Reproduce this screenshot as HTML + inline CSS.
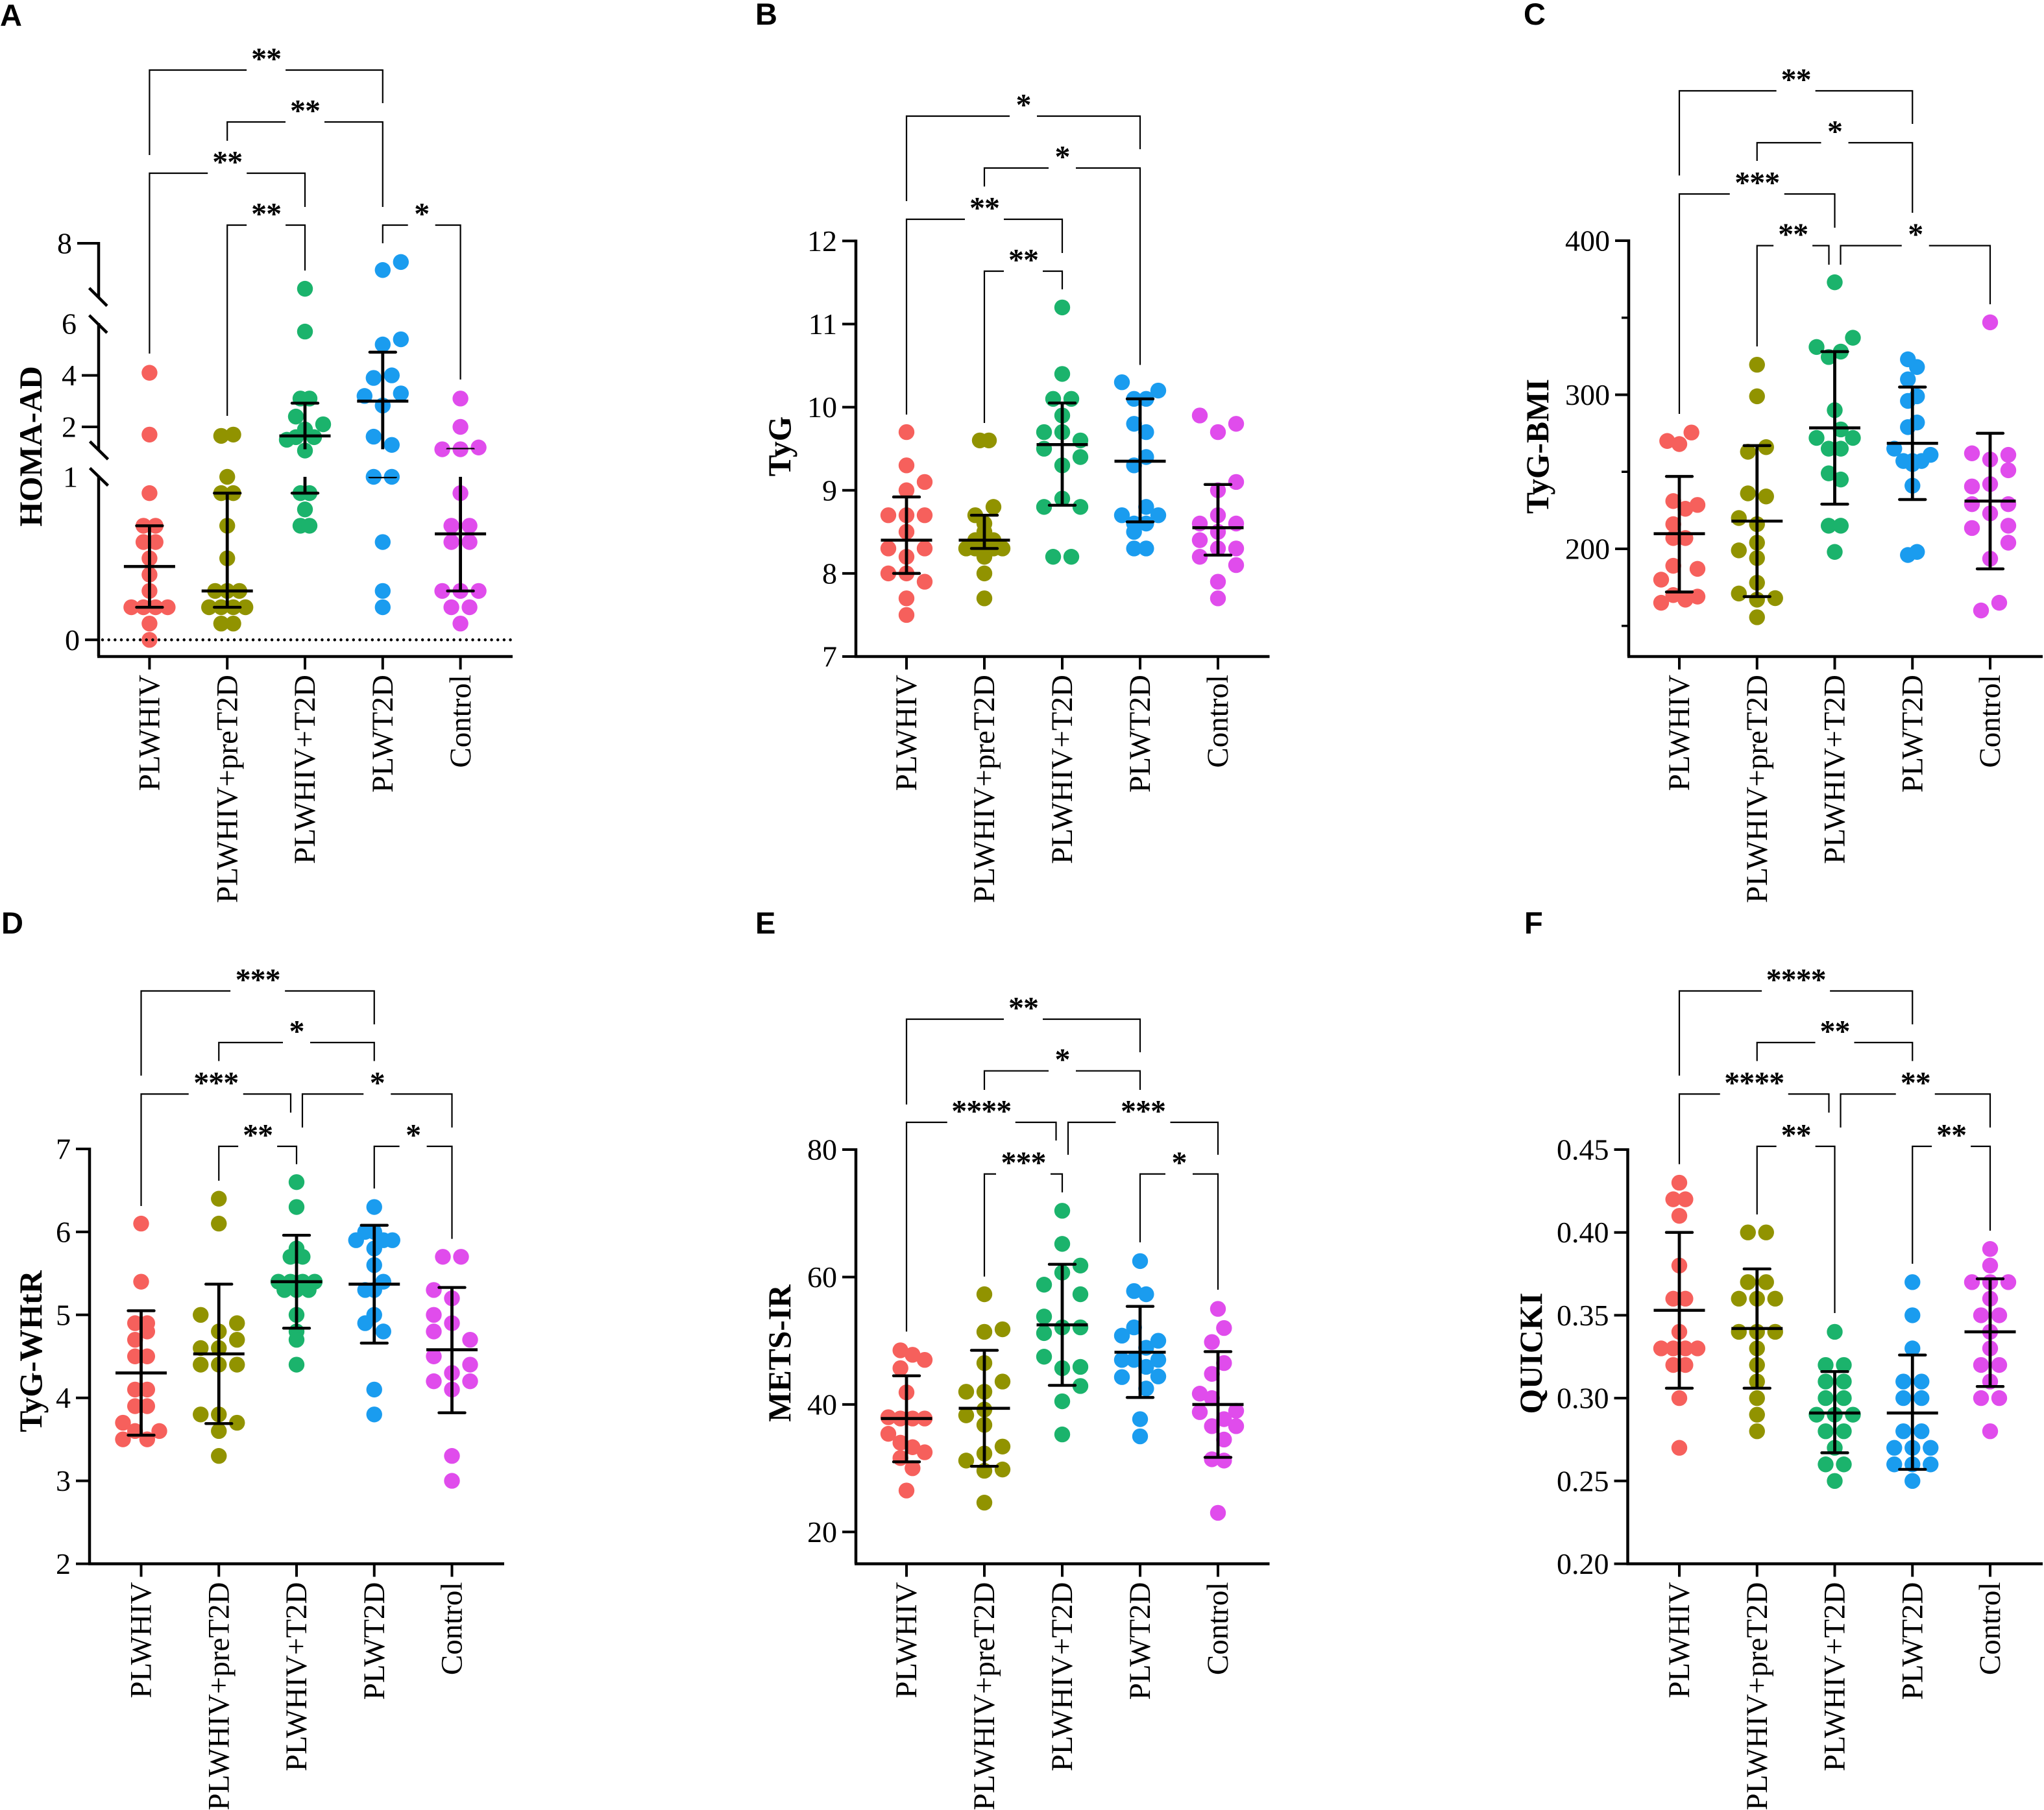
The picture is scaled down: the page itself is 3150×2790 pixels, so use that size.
<!DOCTYPE html>
<html lang="en">
<head>
<meta charset="utf-8">
<title>Insulin resistance indices by group</title>
<style>
html,body{margin:0;padding:0;background:#fff;}
svg{display:block;}
text{fill:#000;}
.tick-text{font-family:"Liberation Serif",serif;font-size:46px;}
.cat-text{font-family:"Liberation Serif",serif;font-size:47px;}
.title-text{font-family:"Liberation Serif",serif;font-size:49.5px;font-weight:bold;}
.star-text{font-family:"Liberation Serif",serif;font-size:48px;font-weight:bold;}
.letter-text{font-family:"Liberation Sans",sans-serif;font-size:47px;font-weight:bold;}
</style>
</head>
<body>
<svg id="figure" xmlns="http://www.w3.org/2000/svg" width="3150" height="2790" viewBox="0 0 3150 2790">
<rect x="0" y="0" width="3150" height="2790" fill="#ffffff"/>
</svg>
<script>
const categories = ['PLWHIV', 'PLWHIV+preT2D', 'PLWHIV+T2D', 'PLWT2D', 'Control'];
const groupKeys = ['plwhiv', 'plwhiv-pret2d', 'plwhiv-t2d', 'plwt2d', 'control'];

/* Each group is a list of swarm rows; a row's values sit side by side, null leaves a slot empty. */
/* Panel A: HOMA-AD */
const homaPlwhiv = [[0],[0.1],[0.2,0.2,0.2,0.2],[0.3],[0.4],[0.5],[0.6,0.6],[0.7,0.7],[0.9],[1.7],[4.1]];
const homaPre = [[0.1,0.1],[0.2,0.2,0.2,0.2],[0.3,0.3,0.3],[0.5],[0.7],[0.9,0.9],[1],[1.65,1.7]];
const homaT2d = [[3.1,3.1],[null,2.4,null,null,null],[1.5,1.6,1.9,1.6,2.1],[1.08],[0.9,0.9],[0.8],[0.7,0.7],[5.7],[6.3]];
const homaPlwt2d = [[0.2],[0.3],[0.6],[1,1],[1.62,1.3],[3.2,2.83,3.3],[3.9,4],[null,5.2,5.4],[null,7,7.3]];
const homaControl = [[0.1],[0.2,0.2],[0.3,0.3,0.3],[0.6,0.6],[0.7,0.7],[0.9],[1.13,1.13,1.2],[2],[3.1]];
const homaMean = [0.45,0.3,1.65,3.0,0.65];
const homaLow = [0.2,0.2,0.9,1.0,0.3];
const homaHigh = [0.7,0.9,2.92,4.9,1.13];
const homaTickValues = [0,1,2,4,6,8];
const homaTickLabels = ['0','1','2','4','6','8'];
const homaMarkedTicks = [0,2,4,8];

/* Panel B: TyG */
const tygPlwhiv = [[9.7],[9.3],[null,9.0,9.1],[8.7,8.7,8.7],[8.5],[8.3,8.2,8.3],[8.0,8.0,7.9],[7.7],[7.5]];
const tygPre = [[9.6,9.6],[null,8.7,8.6,8.8,null],[8.3,8.4,8.4,8.4,8.3],[null,8.3,8.5,8.3,null],[8.2],[8.0],[7.7]];
const tygT2d = [[11.2],[10.4],[10.1,10.1],[9.9],[9.7,9.7,9.6],[9.5,9.3,9.4],[8.8,8.9,8.8],[8.2,8.2]];
const tygPlwt2d = [[10.3,10.1,10.1,10.2],[9.8,9.7],[9.3,9.4],[8.7,8.6,8.8,8.7],[8.5,8.6],[8.3,8.3]];
const tygControl = [[9.9,9.7,9.8],[null,9.0,9.1],[8.6,8.7,8.6],[8.4,8.5,8.3],[8.2,8.3,8.1],[7.9],[7.7]];
const tygMean = [8.4,8.4,9.55,9.35,8.55];
const tygLow = [8.0,8.3,8.82,8.62,8.22];
const tygHigh = [8.92,8.7,10.05,10.1,9.07];
const tygTickValues = [7,8,9,10,11,12];
const tygTickLabels = ['7','8','9','10','11','12'];

/* Panel C: TyG-BMI */
const bmiPlwhiv = [[270,268,275.5],[null,231,226,228.5],[null,216,null,null],[207,207],[null,189,null,187],[180,null,null,null],[165,170,167,169]];
const bmiPre = [[319.5],[299],[263,266],[236,234],[220,216,null],[199,204,null],[194],[178],[171,167,168],[155.6]];
const bmiT2d = [[373],[331,324.5,328,337],[290],[null,null,277.5,null],[272,265,265,272],[249,245],[215,215],[198]];
const bmiPlwt2d = [[323,318],[310,null],[296,299],[279,282],[265,257,255,257,261],[257],[241],[196,198]];
const bmiControl = [[347],[262,258,261],[null,null,251],[240.5,242,null],[229,null,229],[223],[213.5,null,215],[null,null,204],[193.6],[160,165]];
const bmiMean = [209.8,218,278.5,268.5,231];
const bmiLow = [172,169,229,232,187];
const bmiHigh = [247,267,328,305,275];
const bmiTickValues = [200,300,400];
const bmiTickLabels = ['200','300','400'];
const bmiMinorTicks = [150,250,350];

/* Panel D: TyG-WHtR */
const whtrPlwhiv = [[6.1],[5.4],[4.9,4.9],[4.7,4.8],[4.5,4.5],[4.1,4.1],[3.9,3.9],[3.7,3.6,3.5,3.6],[3.5,null,null,null]];
const whtrPre = [[6.4],[6.1],[5.0,4.8,4.9],[4.6,4.6,4.7],[4.4,4.4,4.4],[3.8,3.8,3.7],[3.6],[3.3]];
const whtrT2d = [[6.6],[6.3],[5.8],[5.7,5.7],[5.4,5.4,5.4,5.4],[5.3,5.3,5.3],[5.0],[4.8],[4.7],[4.4]];
const whtrPlwt2d = [[6.3],[5.9,6.0,6.0,5.9,5.9],[5.8],[5.6],[null,5.3,5.3,5.4,null],[null,4.9,5.0,4.8,null],[4.1],[3.8]];
const whtrControl = [[5.7,5.7],[5.3,5.2,null],[5.0,4.9,null],[4.8,null,4.7],[4.5,4.3,4.4],[4.2,4.1,4.2],[3.3],[3.0]];
const whtrMean = [4.3,4.53,5.4,5.37,4.58];
const whtrLow = [3.55,3.69,4.84,4.66,3.82];
const whtrHigh = [5.05,5.37,5.96,6.08,5.33];
const whtrTickValues = [2,3,4,5,6,7];
const whtrTickLabels = ['2','3','4','5','6','7'];

/* Panel E: METS-IR */
const metsPlwhiv = [[null,48.5,47.8,47],[null,45.7,null,null],[41.9],[38,37.8,37.8,37.8],[35.4,34,33.3,32.5],[31.6,30],[26.5]];
const metsPre = [[57.3],[null,51.4,51.8],[46.5],[null,null,43.6],[42,42,null],[38.3,39.2,null],[36.8],[null,32.3,33.4],[31.2,29.6,29.8],[24.6]];
const metsT2d = [[70.4],[65.2],[null,60.7,61.8],[58.8,null,57.3],[53.8,52.1,52.1],[51.2,null,null],[47.5,45.7,45.9],[null,null,42.9],[40.5],[35.3]];
const metsPlwt2d = [[62.5],[57.8,57.3],[null,52.1,null,null],[50.8,null,48.9,50],[47,47,45.9,47],[44.3,null,null,44.4],[null,null,42.5,null],[37.7],[35]];
const metsControl = [[55],[null,null,52,null],[null,49.8,null,null],[null,null,46.5,null],[null,44.8,null,null],[41.7,41,null,null],[38.8,36.6,37.7,39],[null,null,34.5,36.6],[31.4,31.2],[23]];
const metsMean = [37.8,39.4,52.5,48.2,40];
const metsLow = [31,30.3,43,41.1,31.7];
const metsHigh = [44.5,48.5,62,55.4,48.3];
const metsTickValues = [20,40,60,80];
const metsTickLabels = ['20','40','60','80'];

/* Panel F: QUICKI */
const quickiPlwhiv = [[0.43],[0.42,0.42],[0.41],[0.38],[0.36,0.36],[0.34],[0.33,0.33,0.33,0.33],[0.32,0.32],[0.30],[0.27]];
const quickiPre = [[0.40,0.40],[0.37,0.37],[0.36,0.36,0.36],[0.34,0.34,0.34],[0.33],[0.32],[0.31],[0.30],[0.29],[0.28]];
const quickiT2d = [[0.34],[0.32,0.32],[0.31,0.31],[0.30,0.30],[0.29,0.29,0.29],[0.28,0.28],[0.27],[0.26,0.26],[0.25]];
const quickiPlwt2d = [[0.37],[0.35],[0.33],[0.31,0.31],[0.30,0.30],[0.28,0.28],[0.27,0.27,0.27],[0.26,0.26,0.26],[0.25]];
const quickiControl = [[0.39],[0.38],[0.37,0.37,0.37],[0.36],[0.35,0.35],[0.34],[0.33],[0.32,0.32],[0.31],[0.30,0.30],[0.28]];
const quickiMean = [0.353,0.342,0.291,0.291,0.34];
const quickiLow = [0.306,0.306,0.267,0.257,0.307];
const quickiHigh = [0.40,0.378,0.316,0.326,0.372];
const quickiTickValues = [0.20,0.25,0.30,0.35,0.40,0.45];
const quickiTickLabels = ['0.20','0.25','0.30','0.35','0.40','0.45'];

const groupColors = ['#F6605C','#919300','#1BB36C','#1A9CEF','#E04CEC'];
const NS = 'http://www.w3.org/2000/svg';
const root = document.getElementById('figure');

function make(tag, attrs, parent) {
  const node = document.createElementNS(NS, tag);
  for (const key in attrs) node.setAttribute(key, attrs[key]);
  parent.appendChild(node);
  return node;
}

/* Axis functions */
function linearY(d0, r0, d1, r1) {
  return function (v) { return r0 + (v - d0) * (r1 - r0) / (d1 - d0); };
}
function homaY(v) {
  if (v <= 1) return 986.3 - 251.3 * v;
  if (v <= 6) return 658 + (2 - v) * 39.7;
  return 457.5 - (v - 6) * 41.25;
}

function blackLine(parent, x1, y1, x2, y2, width, name) {
  const seg = make('line', {x1: x1, y1: y1, x2: x2, y2: y2, stroke: '#000', 'stroke-width': width}, parent);
  
  
  return seg;
}

function drawGroups(g, p) {
  p.groups.forEach(function (rows, gi) {
    const cx = p.x0 + gi * p.step;
    const swarm = make('g', {fill: groupColors[gi]}, g);
    
    
    const maxN = Math.max.apply(null, rows.map(function (r) { return r.length; }));
    const spacing = maxN > 1 ? 56 / (maxN - 1) : 0;
    rows.forEach(function (row) {
      row.forEach(function (value, i) {
        if (value === null) return;
        const dot = make('circle', {cx: cx + (i - (row.length - 1) / 2) * spacing, cy: p.y(value), r: 12.2}, swarm);
        
        
      });
    });
  });
}

function drawSummaries(g, p) {
  const bands = p.bands || [null];
  bands.forEach(function (band, bi) {
    const layer = make('g', {'stroke-linecap': 'round'}, g);
    
    
    if (band) {
      const id = 'clip-' + p.key + '-' + bi;
      const clip = make('clipPath', {id: id}, layer);
      make('rect', {x: p.axisX, y: band[0], width: p.xEnd - p.axisX, height: band[1] - band[0]}, clip);
      layer.setAttribute('clip-path', 'url(#' + id + ')');
    }
    p.mean.forEach(function (m, gi) {
      const cx = p.x0 + gi * p.step;
      const k = groupKeys[gi];
      const bar = blackLine(layer, cx, p.y(p.high[gi]), cx, p.y(p.low[gi]), 4.8, 'error-bar-' + k);
      bar.setAttribute('stroke-linecap', 'butt');
      blackLine(layer, cx - 20, p.y(p.high[gi]), cx + 20, p.y(p.high[gi]), 4.4, 'error-cap-high-' + k);
      blackLine(layer, cx - 20, p.y(p.low[gi]), cx + 20, p.y(p.low[gi]), 4.4, 'error-cap-low-' + k);
      const meanLine = blackLine(layer, cx - 39.5, p.y(m), cx + 39.5, p.y(m), 4.6, 'mean-line-' + k);
      meanLine.setAttribute('stroke-linecap', 'butt');
    });
  });
}

function drawAxes(g, p) {
  const bottom = p.bottom;
  p.segments.forEach(function (s) {
    blackLine(g, p.axisX, s[0] - 2, p.axisX, s[1], 4.5, 'y-axis-line');
  });
  blackLine(g, p.axisX - 2, bottom, p.xEnd, bottom, 4.5, 'x-axis-line');
  p.ticks.forEach(function (v, i) {
    const y = p.y(v);
    const len = p.tickLen ? p.tickLen(v) : 21;
    const marked = p.marked ? p.marked.indexOf(v) >= 0 : true;
    if (marked) blackLine(g, p.axisX - len, y, p.axisX, y, 4, 'y-axis-tick');
    const t = make('text', {class: 'tick-text', x: p.axisX - len - 8, y: y + 15.5, 'text-anchor': 'end'}, g);
    
    
    t.textContent = p.labels[i];
  });
  (p.minor || []).forEach(function (v) {
    blackLine(g, p.axisX - 11, p.y(v), p.axisX, p.y(v), 3.5, 'y-axis-minor-tick');
  });
  categories.forEach(function (name, gi) {
    const cx = p.x0 + gi * p.step;
    blackLine(g, cx, bottom, cx, bottom + 20, 4, 'x-axis-tick');
    const bx = cx + 15.2;
    const by = bottom + 28;
    const t = make('text', {class: 'cat-text', x: bx, y: by, 'text-anchor': 'end', transform: 'rotate(-90 ' + bx + ' ' + by + ')'}, g);
    
    
    t.textContent = name;
  });
  const ty = make('text', {class: 'title-text', x: p.titleX + 16, y: p.titleY, 'text-anchor': 'middle', transform: 'rotate(-90 ' + (p.titleX + 16) + ' ' + p.titleY + ')'}, g);
  
  
  ty.textContent = p.title;
  const letter = make('text', {class: 'letter-text', x: p.letterX, y: p.letterY}, g);
  
  
  letter.textContent = p.letter;
}

function bracket(g, p, xa, xb, top, dropA, dropB, stars) {
  const mid = (xa + xb) / 2;
  const half = [0, 21, 30, 42, 52.5][stars.length];
  const b = make('g', {fill: 'none', stroke: '#000', 'stroke-width': 2.2}, g);
  
  
  make('polyline', {points: xa + ',' + dropA + ' ' + xa + ',' + top + ' ' + (mid - half) + ',' + top}, b);
  make('polyline', {points: (mid + half) + ',' + top + ' ' + xb + ',' + top + ' ' + xb + ',' + dropB}, b);
  const t = make('text', {class: 'star-text', x: mid, y: top - 1.5, 'text-anchor': 'middle', 'letter-spacing': '-1'}, g);
  
  
  t.textContent = stars;
}

function panel(p) {
  const g = make('g', {}, root);
  
  
  p.gx = function (i) { return p.x0 + i * p.step; };
  drawGroups(g, p);
  drawSummaries(g, p);
  drawAxes(g, p);
  return {g: g, p: p};
}

/* Panel A */
(function () {
  const pa = panel({
    key: 'homa-ad', letter: 'A', letterX: 0, letterY: 40, title: 'HOMA-AD', titleX: 48, titleY: 688,
    axisX: 152, bottom: 1012, x0: 230.4, step: 119.8, xEnd: 790, y: homaY,
    groups: [homaPlwhiv, homaPre, homaT2d, homaPlwt2d, homaControl],
    mean: homaMean, low: homaLow, high: homaHigh,
    ticks: homaTickValues, labels: homaTickLabels, marked: homaMarkedTicks,
    tickLen: function (v) { return v === 8 ? 33 : v === 0 ? 21 : v === 1 ? 24 : 26; },
    segments: [[375, 458], [500, 694], [735, 1012]],
    bands: [[735, 1012], [500, 692.5]]
  });
  const g = pa.g, p = pa.p;
  [[137.5, 444, 165, 471.5], [137.5, 486, 165, 513], [138.5, 680.5, 166.5, 708], [138.5, 721.5, 166.5, 748.5]].forEach(function (s) {
    blackLine(g, s[0], s[1], s[2], s[3], 4.5, 'axis-break-mark');
  });
  const zero = blackLine(g, 158, homaY(0), 790, homaY(0), 4.5, 'zero-reference-line');
  zero.setAttribute('stroke-dasharray', '0 9.67');
  zero.setAttribute('stroke-linecap', 'round');
  bracket(g, p, p.gx(0), p.gx(3), 108, 239, 159, '**');
  bracket(g, p, p.gx(1), p.gx(3), 188, 217, 319, '**');
  bracket(g, p, p.gx(0), p.gx(2), 267, 545, 319, '**');
  bracket(g, p, p.gx(1), p.gx(2), 347, 641, 417, '**');
  bracket(g, p, p.gx(3), p.gx(4), 347, 375, 585, '*');
})();

/* Panel B */
(function () {
  const pa = panel({
    key: 'tyg', letter: 'B', letterX: 1164, letterY: 38, title: 'TyG', titleX: 1202, titleY: 688,
    axisX: 1319, bottom: 1012, x0: 1397, step: 120, xEnd: 1956.5, y: linearY(7, 1012, 12, 371.4),
    groups: [tygPlwhiv, tygPre, tygT2d, tygPlwt2d, tygControl],
    mean: tygMean, low: tygLow, high: tygHigh,
    ticks: tygTickValues, labels: tygTickLabels,
    segments: [[371.4, 1012]]
  });
  const g = pa.g, p = pa.p;
  bracket(g, p, p.gx(0), p.gx(3), 179, 310, 230, '*');
  bracket(g, p, p.gx(1), p.gx(3), 259, 287.5, 562.5, '*');
  bracket(g, p, p.gx(0), p.gx(2), 338, 639, 390, '**');
  bracket(g, p, p.gx(1), p.gx(2), 418, 652, 446, '**');
})();

/* Panel C */
(function () {
  const pa = panel({
    key: 'tyg-bmi', letter: 'C', letterX: 2348, letterY: 38, title: 'TyG-BMI', titleX: 2370, titleY: 688,
    axisX: 2510, bottom: 1012, x0: 2588, step: 119.75, xEnd: 3148, y: linearY(200, 846, 400, 371),
    groups: [bmiPlwhiv, bmiPre, bmiT2d, bmiPlwt2d, bmiControl],
    mean: bmiMean, low: bmiLow, high: bmiHigh,
    ticks: bmiTickValues, labels: bmiTickLabels, minor: bmiMinorTicks,
    segments: [[371, 1012]]
  });
  const g = pa.g, p = pa.p;
  bracket(g, p, p.gx(0), p.gx(3), 140, 270.5, 191, '**');
  bracket(g, p, p.gx(1), p.gx(3), 220, 248, 328, '*');
  bracket(g, p, p.gx(0), p.gx(2), 299, 638, 351, '***');
  bracket(g, p, p.gx(1), p.gx(2) - 9, 378.6, 534, 408, '**');
  bracket(g, p, p.gx(2) + 9, p.gx(4), 378.6, 408, 469, '*');
})();

/* Panel D */
(function () {
  const pa = panel({
    key: 'tyg-whtr', letter: 'D', letterX: 2, letterY: 1439, title: 'TyG-WHtR', titleX: 48, titleY: 2083,
    axisX: 138, bottom: 2410.5, x0: 217.5, step: 119.75, xEnd: 777, y: linearY(2, 2410.5, 7, 1771),
    groups: [whtrPlwhiv, whtrPre, whtrT2d, whtrPlwt2d, whtrControl],
    mean: whtrMean, low: whtrLow, high: whtrHigh,
    ticks: whtrTickValues, labels: whtrTickLabels,
    segments: [[1771, 2410.5]]
  });
  const g = pa.g, p = pa.p;
  bracket(g, p, p.gx(0), p.gx(3), 1527.5, 1658, 1579, '***');
  bracket(g, p, p.gx(1), p.gx(3), 1607, 1635.5, 1635.5, '*');
  bracket(g, p, p.gx(0), p.gx(2) - 9, 1686.4, 1859, 1715, '***');
  bracket(g, p, p.gx(2) + 9, p.gx(4), 1686.4, 1738, 1738, '*');
  bracket(g, p, p.gx(1), p.gx(2), 1767, 1820, 1794.5, '**');
  bracket(g, p, p.gx(3), p.gx(4), 1767, 1832, 1909.6, '*');
})();

/* Panel E */
(function () {
  const pa = panel({
    key: 'mets-ir', letter: 'E', letterX: 1164, letterY: 1439, title: 'METS-IR', titleX: 1202, titleY: 2086,
    axisX: 1319, bottom: 2410.5, x0: 1397, step: 120, xEnd: 1956.5, y: linearY(20, 2361.4, 80, 1772),
    groups: [metsPlwhiv, metsPre, metsT2d, metsPlwt2d, metsControl],
    mean: metsMean, low: metsLow, high: metsHigh,
    ticks: metsTickValues, labels: metsTickLabels,
    segments: [[1772, 2410.5]]
  });
  const g = pa.g, p = pa.p;
  bracket(g, p, p.gx(0), p.gx(3), 1571, 1702.5, 1622, '**');
  bracket(g, p, p.gx(1), p.gx(3), 1650.7, 1680, 1680, '*');
  bracket(g, p, p.gx(0), p.gx(2) - 9.5, 1730, 2052.5, 1758, '****');
  bracket(g, p, p.gx(2) + 9, p.gx(4), 1730, 1780, 1780, '***');
  bracket(g, p, p.gx(1), p.gx(2), 1809.6, 1967.7, 1838, '***');
  bracket(g, p, p.gx(3), p.gx(4), 1809.6, 1915, 1988, '*');
})();

/* Panel F */
(function () {
  const pa = panel({
    key: 'quicki', letter: 'F', letterX: 2349, letterY: 1439, title: 'QUICKI', titleX: 2360, titleY: 2086,
    axisX: 2508.5, bottom: 2410.5, x0: 2588, step: 119.75, xEnd: 3148, y: linearY(0.20, 2410.5, 0.45, 1772),
    groups: [quickiPlwhiv, quickiPre, quickiT2d, quickiPlwt2d, quickiControl],
    mean: quickiMean, low: quickiLow, high: quickiHigh,
    ticks: quickiTickValues, labels: quickiTickLabels,
    segments: [[1772, 2410.5]]
  });
  const g = pa.g, p = pa.p;
  bracket(g, p, p.gx(0), p.gx(3), 1527.5, 1658, 1579, '****');
  bracket(g, p, p.gx(1), p.gx(3), 1607, 1635.5, 1635.5, '**');
  bracket(g, p, p.gx(0), p.gx(2) - 9, 1686.4, 1794.5, 1715, '****');
  bracket(g, p, p.gx(2) + 9, p.gx(4), 1686.4, 1738, 1738, '**');
  bracket(g, p, p.gx(1), p.gx(2), 1767, 1872, 2024, '**');
  bracket(g, p, p.gx(3), p.gx(4), 1767, 1948, 1897, '**');
})();
</script>
</body>
</html>
